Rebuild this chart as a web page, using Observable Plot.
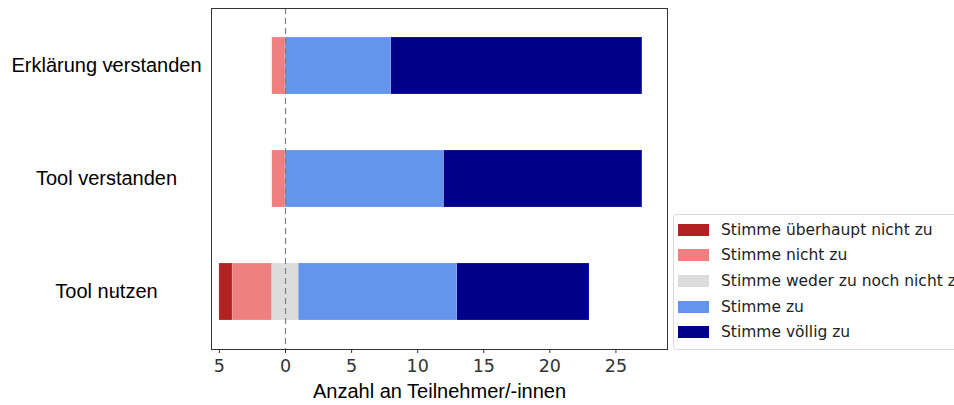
<!DOCTYPE html>
<html><head><meta charset="utf-8">
<script src="https://cdn.jsdelivr.net/npm/d3@7"></script>
<script src="https://cdn.jsdelivr.net/npm/@observablehq/plot@0.6"></script>
<style>
html,body{margin:0;padding:0;background:#fff;overflow:hidden;width:954px;height:405px}
#wrap{position:relative;width:954px;height:405px}
#legend{position:absolute;left:673px;top:214px;width:300px;height:136px;border:1px solid #d9d9d9;border-radius:4px;background:#fff;font-family:"DejaVu Sans",sans-serif;font-size:15.5px;color:#222;box-sizing:border-box;padding-top:2px}
.item{display:flex;align-items:center;height:25.6px}
.sw{width:31px;height:12px;margin-left:4px;margin-right:12px}
</style></head>
<body><div id="wrap"><div id="legend"></div></div>
<script>
const questions = ["Erklärung verstanden", "Tool verstanden", "Tool nutzen"];
const levels = ["Stimme überhaupt nicht zu", "Stimme nicht zu", "Stimme weder zu noch nicht zu", "Stimme zu", "Stimme völlig zu"];
const colors = ["#b22222", "#f08080", "#dcdcdc", "#6495ed", "#00008b"];
const ueberhauptNicht = [0, 0, 1];
const nicht = [1, 1, 3];
const weder = [0, 0, 2];
const zu = [8, 12, 12];
const voellig = [19, 15, 10];
const xTicks = [-5, 0, 5, 10, 15, 20, 25];

const series = [ueberhauptNicht, nicht, weder, zu, voellig];
const rows = [];
questions.forEach((q, i) => {
  let start = -(ueberhauptNicht[i] + nicht[i] + weder[i] / 2);
  series.forEach((s, k) => {
    const v = s[i];
    if (v > 0) rows.push({q, level: levels[k], x1: start, x2: start + v});
    start += v;
  });
});

const plot = Plot.plot({
  width: 954, height: 405,
  marginLeft: 211, marginRight: 287, marginTop: 8, marginBottom: 56,
  x: {domain: [-5.6, 28.9], ticks: xTicks, tickFormat: d => String(Math.abs(d))},
  y: {domain: questions, padding: 0.5, paddingOuter: 0.25},
  color: {domain: levels, range: colors},
  style: {background: "#fff"},
  marks: [
    Plot.barX(rows, {y: "q", x1: "x1", x2: "x2", fill: "level", stroke: "#fff", strokeOpacity: 0.3, strokeWidth: 0.5}),
    Plot.ruleX([0], {stroke: "#808080", strokeDasharray: "6,4", strokeWidth: 1.2}),
    Plot.frame({stroke: "#333", strokeWidth: 1}),
    Plot.axisX({ticks: xTicks, tickFormat: d => String(Math.abs(d)), tickSize: 4, tickPadding: 6, fontSize: 17.5, fontFamily: "DejaVu Sans", fill: "#333", stroke: "#333", label: null}),
    Plot.axisY({tickSize: 4, textAnchor: "middle", dx: -96, fontSize: 20, fontFamily: "Liberation Sans, Arial", fill: "#000", label: null}),
    Plot.text(["Anzahl an Teilnehmer/-innen"], {frameAnchor: "bottom", dy: 48, fontSize: 20, fontFamily: "Liberation Sans, Arial", fill: "#000"})
  ]
});
document.getElementById("wrap").prepend(plot);

const leg = document.getElementById("legend");
levels.forEach((l, k) => {
  const d = document.createElement("div");
  d.className = "item";
  d.innerHTML = `<span class="sw" style="background:${colors[k]}"></span><span style="white-space:nowrap">${l}</span>`;
  leg.appendChild(d);
});
</script></body></html>
